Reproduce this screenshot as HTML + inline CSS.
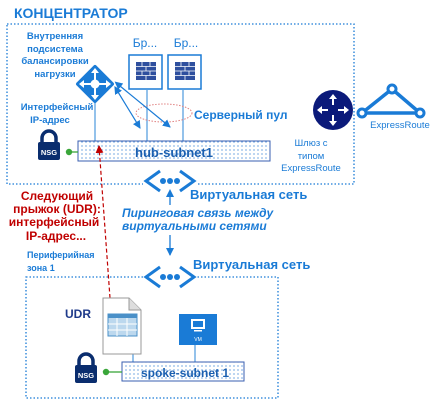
<!DOCTYPE html>
<html><head><meta charset="utf-8"><style>
html,body{margin:0;padding:0;background:#fff;}
svg{display:block;font-family:"Liberation Sans","DejaVu Sans",sans-serif;}
</style></head><body>
<svg width="438" height="400" viewBox="0 0 438 400" xmlns="http://www.w3.org/2000/svg">
<defs>
<pattern id="dots" width="4" height="4" patternUnits="userSpaceOnUse"><rect width="4" height="4" fill="#fff"/><circle cx="2" cy="2" r="0.6" fill="#1a6fd0"/></pattern>
<marker id="ah" markerWidth="8" markerHeight="8" refX="7" refY="4" orient="auto" markerUnits="userSpaceOnUse"><path d="M0,0 L8,4 L0,8 Z" fill="#1a7bd6"/></marker>
<marker id="ahs" markerWidth="8" markerHeight="8" refX="1" refY="4" orient="auto-start-reverse" markerUnits="userSpaceOnUse"><path d="M0,0 L8,4 L0,8 Z" fill="#1a7bd6"/></marker>
<marker id="rh" markerWidth="8" markerHeight="8" refX="7" refY="4" orient="auto" markerUnits="userSpaceOnUse"><path d="M0,0 L8,4 L0,8 Z" fill="#c00000"/></marker>
</defs>
<g fill="#1a7bd6" font-weight="bold">
<text x="14" y="18" font-size="14">КОНЦЕНТРАТОР</text>
</g>
<rect x="7" y="24" width="347" height="160" fill="none" stroke="#1a7bd6" stroke-width="1.3" stroke-dasharray="1.5,2"/>
<!-- LB labels -->
<g fill="#1a7bd6" font-size="9.5" font-weight="bold" text-anchor="middle">
<text x="55" y="39">Внутренняя</text>
<text x="55" y="52">подсистема</text>
<text x="55" y="64">балансировки</text>
<text x="55" y="77">нагрузки</text>
<text x="57" y="110">Интерфейсный</text>
<text x="50" y="123">IP-адрес</text>
</g>
<g fill="#1a7bd6" font-size="12" text-anchor="middle">
<text x="145" y="47">Бр...</text>
<text x="186" y="47">Бр...</text>
</g>
<!-- lines to subnet -->
<line x1="95" y1="100" x2="95" y2="141" stroke="#5aa0e0" stroke-width="1.3"/>
<line x1="147" y1="90" x2="147" y2="141" stroke="#5aa0e0" stroke-width="1.3"/>
<line x1="183" y1="90" x2="183" y2="141" stroke="#5aa0e0" stroke-width="1.3"/>
<!-- firewalls -->
<g>
<rect x="129" y="55" width="33" height="34" fill="#fff" stroke="#1a7bd6" stroke-width="1.5"/>
<rect x="136" y="62" width="20" height="18" fill="#2e4f9e"/>
<g stroke="#fff" stroke-width="0.8"><line x1="136" y1="66.5" x2="156" y2="66.5"/><line x1="136" y1="71" x2="156" y2="71"/><line x1="136" y1="75.5" x2="156" y2="75.5"/><line x1="142" y1="62" x2="142" y2="66.5"/><line x1="150" y1="62" x2="150" y2="66.5"/><line x1="146" y1="66.5" x2="146" y2="71"/><line x1="142" y1="71" x2="142" y2="75.5"/><line x1="150" y1="71" x2="150" y2="75.5"/><line x1="146" y1="75.5" x2="146" y2="80"/></g>
<rect x="168" y="55" width="33" height="34" fill="#fff" stroke="#1a7bd6" stroke-width="1.5"/>
<rect x="175" y="62" width="20" height="18" fill="#2e4f9e"/>
<g stroke="#fff" stroke-width="0.8"><line x1="175" y1="66.5" x2="195" y2="66.5"/><line x1="175" y1="71" x2="195" y2="71"/><line x1="175" y1="75.5" x2="195" y2="75.5"/><line x1="181" y1="62" x2="181" y2="66.5"/><line x1="189" y1="62" x2="189" y2="66.5"/><line x1="185" y1="66.5" x2="185" y2="71"/><line x1="181" y1="71" x2="181" y2="75.5"/><line x1="189" y1="71" x2="189" y2="75.5"/><line x1="185" y1="75.5" x2="185" y2="80"/></g>
</g>
<!-- LB diamond -->
<g transform="translate(95,84)">
<rect x="-14" y="-14" width="28" height="28" transform="rotate(45)" fill="#1a7bd6" rx="2"/>
<circle r="4.5" fill="#fff"/>
<g stroke="#fff" stroke-width="2"><line x1="0" y1="-12" x2="0" y2="12"/><line x1="-12" y1="0" x2="12" y2="0"/></g>
<g fill="#fff"><path d="M0,-16 l-4,5 h8z"/><path d="M0,16 l-4,-5 h8z"/><path d="M-16,0 l5,-4 v8z"/><path d="M16,0 l-5,-4 v8z"/></g>
</g>
<!-- ellipse -->
<ellipse cx="164" cy="113" rx="28" ry="9" fill="none" stroke="#e08080" stroke-width="1" stroke-dasharray="1.5,1.5"/>
<!-- arrows -->
<line x1="118" y1="92" x2="140" y2="128" stroke="#1a7bd6" stroke-width="1.2" marker-start="url(#ahs)" marker-end="url(#ah)"/>
<line x1="120" y1="86" x2="170" y2="127" stroke="#1a7bd6" stroke-width="1.2" marker-start="url(#ahs)" marker-end="url(#ah)"/>
<text x="194" y="119" font-size="12" font-weight="bold" fill="#1a7bd6">Серверный пул</text>
<!-- hub subnet -->
<rect x="78" y="141" width="192" height="20" fill="url(#dots)" stroke="#3a5fb0" stroke-width="1"/>
<text x="135" y="157" font-size="13" font-weight="bold" fill="#1a5fb0">hub-subnet1</text>
<!-- NSG hub -->
<g transform="translate(37,130)">
<path d="M5,12 V8 a7,7 0 0 1 14,0 V12" fill="none" stroke="#0a2d6e" stroke-width="3.5"/>
<rect x="1" y="12" width="22" height="18" rx="2" fill="#0a2d6e"/>
<text x="12" y="25" font-size="7.5" font-weight="bold" fill="#fff" text-anchor="middle">NSG</text>
</g>
<line x1="69" y1="152" x2="78" y2="152" stroke="#3aa63a" stroke-width="1.3"/>
<circle cx="69" cy="152" r="3.2" fill="#3aa63a"/>
<!-- router -->
<circle cx="333" cy="110" r="20" fill="#0b1a7a"/>
<g fill="#fff">
<path d="M333,94 l-4,5 h3 v6 h2 v-6 h3z"/>
<path d="M333,126 l-4,-5 h3 v-6 h2 v6 h3z"/>
<path d="M317,110 l5,-4 v3 h6 v2 h-6 v3z"/>
<path d="M349,110 l-5,-4 v3 h-6 v2 h6 v3z"/>
</g>
<g fill="#1a7bd6" font-size="9.5" text-anchor="middle">
<text x="311" y="146">Шлюз с</text>
<text x="311" y="159">типом</text>
<text x="311" y="171">ExpressRoute</text>
<text x="400" y="128">ExpressRoute</text>
</g>
<!-- ExpressRoute triangle -->
<g stroke="#1a7bd6" stroke-width="3.5" fill="none">
<path d="M392,89 L362,113 L420,113 Z" stroke-linejoin="round"/>
</g>
<circle cx="392" cy="89" r="4" fill="#fff" stroke="#1a7bd6" stroke-width="3"/>
<circle cx="362" cy="113" r="4" fill="#fff" stroke="#1a7bd6" stroke-width="3"/>
<circle cx="420" cy="113" r="4" fill="#fff" stroke="#1a7bd6" stroke-width="3"/>
<!-- vnet 1 -->
<g transform="translate(170,181)">
<rect x="-27" y="-10" width="54" height="20" fill="#fff"/>
<path d="M-10,-10 L-24,0 L-10,10 M10,-10 L24,0 L10,10" fill="none" stroke="#1a7bd6" stroke-width="3"/>
<circle cx="-7" cy="0" r="3" fill="#1a7bd6"/><circle cx="0" cy="0" r="3" fill="#1a7bd6"/><circle cx="7" cy="0" r="3" fill="#1a7bd6"/>
</g>
<text x="190" y="199" font-size="13" font-weight="bold" fill="#1a7bd6">Виртуальная сеть</text>
<line x1="170" y1="196" x2="170" y2="255" stroke="#1a7bd6" stroke-width="1.3" marker-start="url(#ahs)" marker-end="url(#ah)"/>
<rect x="120" y="205" width="160" height="30" fill="#fff"/>
<g fill="#1a7bd6" font-size="12" font-style="italic" font-weight="bold">
<text x="122" y="217">Пиринговая связь между</text>
<text x="122" y="230">виртуальными сетями</text>
</g>
<!-- spoke box -->
<rect x="26" y="277" width="252" height="121" fill="none" stroke="#1a7bd6" stroke-width="1.3" stroke-dasharray="1.5,2"/>
<g transform="translate(170,277)">
<rect x="-27" y="-10" width="54" height="20" fill="#fff"/>
<path d="M-10,-10 L-24,0 L-10,10 M10,-10 L24,0 L10,10" fill="none" stroke="#1a7bd6" stroke-width="3"/>
<circle cx="-7" cy="0" r="3" fill="#1a7bd6"/><circle cx="0" cy="0" r="3" fill="#1a7bd6"/><circle cx="7" cy="0" r="3" fill="#1a7bd6"/>
</g>
<text x="193" y="269" font-size="13" font-weight="bold" fill="#1a7bd6">Виртуальная сеть</text>
<!-- red -->
<g fill="#c00000" font-size="12" font-weight="bold" text-anchor="middle">
<text x="57" y="200">Следующий</text>
<text x="57" y="213">прыжок (UDR):</text>
<text x="54" y="226">интерфейсный</text>
<text x="56" y="240">IP-адрес...</text>
</g>
<line x1="110" y1="298" x2="99" y2="146" stroke="#c00000" stroke-width="1.2" stroke-dasharray="4,2.5" marker-end="url(#rh)"/>
<g fill="#1a7bd6" font-size="9" font-weight="bold">
<text x="27" y="258">Периферийная</text>
<text x="27" y="271">зона 1</text>
</g>
<text x="65" y="318" font-size="12" font-weight="bold" fill="#1e3a8a">UDR</text>
<!-- UDR doc -->
<line x1="133" y1="348" x2="133" y2="362" stroke="#5aa0e0" stroke-width="1.3"/>
<path d="M103,298 H129 L141,310 V354 H103 Z" fill="#fff" stroke="#999" stroke-width="1"/>
<path d="M129,298 V310 H141" fill="#ddd" stroke="#999" stroke-width="1"/>
<rect x="108" y="314" width="29" height="22" fill="#bcd8ee" stroke="#4a90c8" stroke-width="1"/>
<rect x="108" y="314" width="29" height="4" fill="#4a90c8"/>
<g stroke="#fff" stroke-width="1"><line x1="117" y1="318" x2="117" y2="336"/><line x1="127" y1="318" x2="127" y2="336"/><line x1="108" y1="324" x2="137" y2="324"/><line x1="108" y1="330" x2="137" y2="330"/></g>
<!-- VM -->
<line x1="195" y1="344" x2="195" y2="362" stroke="#5aa0e0" stroke-width="1.3"/>
<rect x="179" y="314" width="38" height="31" fill="#1a7bd6"/>
<rect x="191" y="319" width="14" height="10" fill="#fff"/>
<rect x="193" y="321" width="10" height="6" fill="#1a7bd6"/>
<rect x="194" y="330" width="8" height="1.5" fill="#fff"/>
<text x="198" y="341" font-size="5" fill="#fff" text-anchor="middle">VM</text>
<!-- spoke subnet -->
<rect x="122" y="362" width="122" height="19" fill="url(#dots)" stroke="#3a5fb0" stroke-width="1"/>
<text x="141" y="377" font-size="12" font-weight="bold" fill="#1a5fb0">spoke-subnet 1</text>
<g transform="translate(74,353)">
<path d="M5,12 V8 a7,7 0 0 1 14,0 V12" fill="none" stroke="#0a2d6e" stroke-width="3.5"/>
<rect x="1" y="12" width="22" height="18" rx="2" fill="#0a2d6e"/>
<text x="12" y="25" font-size="7.5" font-weight="bold" fill="#fff" text-anchor="middle">NSG</text>
</g>
<line x1="106" y1="372" x2="122" y2="372" stroke="#3aa63a" stroke-width="1.3"/>
<circle cx="106" cy="372" r="3.2" fill="#3aa63a"/>
</svg>
</body></html>
